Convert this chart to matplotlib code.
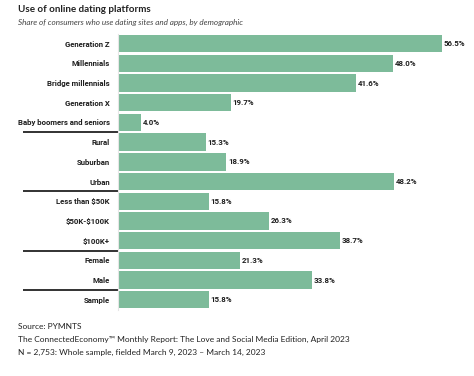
import matplotlib
matplotlib.use("Agg")
import matplotlib.pyplot as plt

categories = ["Generation Z", "Millennials", "Bridge millennials", "Generation X",
              "Baby boomers and seniors", "Rural", "Suburban", "Urban",
              "Less than \\$50K", "\\$50K-\\$100K", "\\$100K+", "Female", "Male", "Sample"]
values = [56.5, 48.0, 41.6, 19.7, 4.0, 15.3, 18.9, 48.2, 15.8, 26.3, 38.7, 21.3, 33.8, 15.8]
group_ends = [4, 7, 10, 12]  # separator lines after these rows

title = "Use of online dating platforms"
subtitle = "Share of consumers who use dating sites and apps, by demographic"
footer = ["Source: PYMNTS",
          "The ConnectedEconomy\u2122 Monthly Report: The Love and Social Media Edition, April 2023",
          "N = 2,753: Whole sample, fielded March 9, 2023 \u2013 March 14, 2023"]

W, H = 474, 376
fig = plt.figure(figsize=(W / 100, H / 100), dpi=100)
ax = fig.add_axes([118 / W, 1 - 309.6 / H, 343.8 / W, (309.6 - 33.8) / H])

bar_color = "#7dbb9a"
ypos = list(range(len(categories)))
ax.barh(ypos, values, height=0.88, color=bar_color)
ax.set_xlim(0, 60)
ax.set_ylim(len(categories) - 0.5, -0.5)
for s in ax.spines.values():
    s.set_visible(False)
ax.spines["left"].set_visible(True)
ax.spines["left"].set_color("#e6e6e6")
ax.spines["left"].set_linewidth(0.8)
ax.set_xticks([])
ax.set_yticks(ypos)
ax.set_yticklabels(categories, fontfamily="Roboto", fontweight="bold", fontsize=5.6, color="#1e1e1e")
ax.tick_params(axis="y", length=0, pad=6)

for y, v in zip(ypos, values):
    ax.annotate(f"{v:.1f}%", (v, y), xytext=(1.4, 0), textcoords="offset points",
                va="center", ha="left", fontfamily="Roboto", fontweight="bold",
                fontsize=5.7, color="#1e1e1e")

# separator lines in the label area
trans = ax.get_yaxis_transform()
for g in group_ends:
    ax.plot([(23 - 118) / 343.8, 0], [g + 0.5, g + 0.5], transform=trans,
            color="#222222", lw=1.3, clip_on=False, solid_capstyle="butt")

fig.text(18 / W, 1 - 10 / H, title, fontfamily="Lato", fontweight="bold",
         fontsize=7.1, color="#222222", va="center", ha="left")
fig.text(18 / W, 1 - 22 / H, subtitle, fontfamily="Lato", fontstyle="italic",
         fontsize=5.9, color="#444444", va="center", ha="left")
for i, line in enumerate(footer):
    fig.text(18 / W, 1 - (326.7 + 12.8 * i) / H, line, fontfamily="Lato",
             fontsize=6.0, color="#222222", va="center", ha="left")

fig.savefig("out.png", dpi=100, facecolor="white")
